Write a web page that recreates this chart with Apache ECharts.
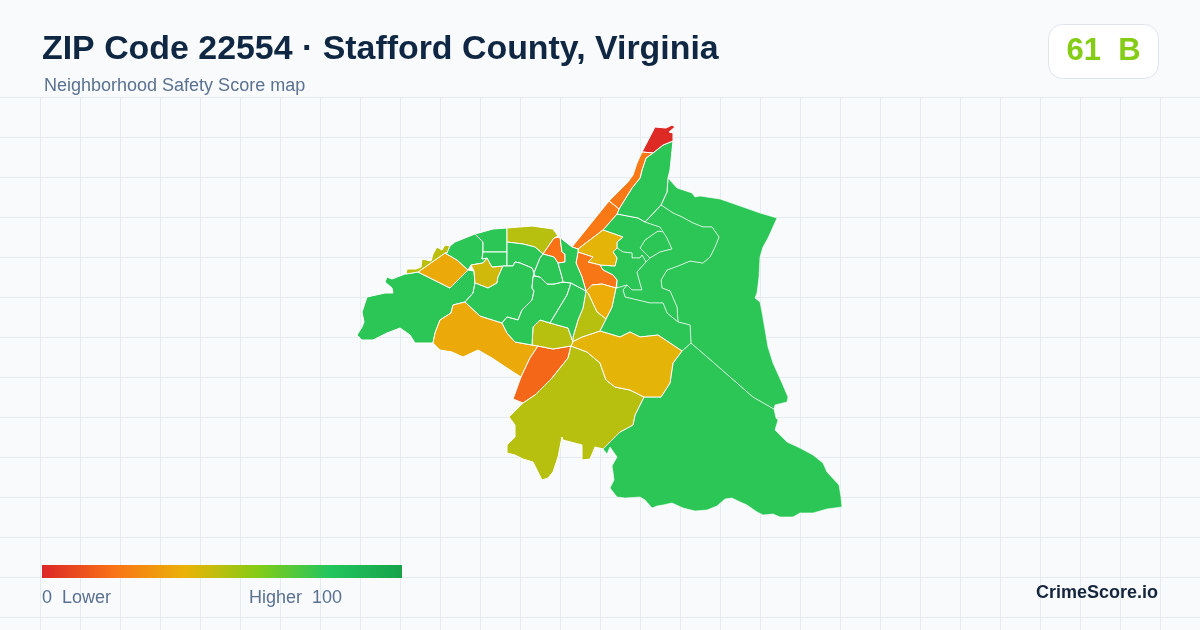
<!DOCTYPE html>
<html>
<head>
<meta charset="utf-8">
<title>ZIP Code 22554</title>
<style>
html, body { margin: 0; padding: 0; background: #f8fafc; }
#main { width: 1200px; height: 630px; }
</style>
<script src="https://cdn.jsdelivr.net/npm/echarts@6/dist/echarts.min.js"></script>
</head>
<body>
<div id="main"></div>
<script>
var titleText = 'ZIP Code 22554 · Stafford County, Virginia';
var subtitleText = 'Neighborhood Safety Score map';
var badgeText = '61  B';
var brandText = 'CrimeScore.io';
var legendLow = '0  Lower';
var legendHigh = 'Higher  100';

// colour ramp of the score, 0 to 100
var rampColors = ['#dc2626', '#f97316', '#eab308', '#84cc16', '#22c55e', '#16a34a'];

// neighborhoods and their scores
var regionNames = ['West', 'Northwest Amber', 'Southwest Amber', 'Creek', 'South Olive', 'East Amber', 'South', 'Northeast',
    'North', 'Tip', 'Strip Upper', 'Strip Lower', 'North Amber', 'Mid Orange', 'Mid Amber', 'Mid Olive', 'Central Olive',
    'West Bits', 'Ridge', 'Star', 'Top Left', 'Top Mid', 'Top Olive', 'Small Orange', 'Center A', 'Center B', 'Center C',
    'Center D', 'Center E', 'Center F', 'Inner Loop', 'Inner North', 'Inner Mid', 'Inner East', 'Inner South'];
var regionScores = [78, 37, 37, 17, 50, 41, 78, 78,
    78, 1, 22, 22, 41, 21, 38, 50, 50,
    49, 78, 45, 78, 78, 50, 20, 78, 78, 78,
    78, 78, 78, 78, 78, 78, 78, 78];
var thinRegions = ['South', 'Northeast', 'Inner Loop', 'Inner North', 'Inner Mid', 'Inner East', 'Inner South'];
var regionRings = [
    [[357,335],[362,327],[364,322],[362,312],[367,297],[385,293],[393,293],[392,288],[385,282],[387,277],[392,279],[405,274],[418,272],[430,278],[440,283],[450,288],[458,280],[468,270],[474,271],[475,283],[473,293],[465,302],[453,305],[451,313],[440,320],[435,333],[433,343],[415,343],[410,335],[400,328],[387,333],[373,340],[362,340]],
    [[418,272],[445,253],[457,260],[468,270],[458,280],[450,288],[440,283],[430,278]],
    [[465,302],[480,316],[502,323],[507,333],[515,342],[532,345],[538,346],[530,358],[521,377],[507,368],[492,358],[478,350],[463,357],[452,352],[440,350],[433,343],[435,333],[440,320],[451,313],[453,305]],
    [[538,346],[553,349],[571,346],[568,358],[552,378],[535,395],[523,403],[513,399],[521,377],[530,358]],
    [[571,346],[587,352],[600,363],[606,380],[615,387],[630,390],[644,397],[635,415],[633,425],[620,432],[603,449],[595,447],[590,459],[582,460],[582,445],[563,440],[562,437],[558,457],[553,472],[548,478],[542,480],[538,472],[533,462],[523,459],[515,455],[507,453],[507,445],[515,437],[515,425],[509,417],[523,403],[535,395],[552,378],[568,358]],
    [[571,346],[572,342],[582,337],[600,331],[620,337],[630,332],[640,337],[658,335],[670,343],[682,351],[673,363],[670,383],[661,397],[644,397],[630,390],[615,387],[606,380],[600,363],[587,352]],
    [[682,351],[691,343],[713,362],[737,383],[753,397],[774,409],[776,418],[778,420],[775,430],[787,442],[800,448],[813,455],[823,463],[827,472],[839,485],[841,497],[842,507],[827,509],[813,513],[800,513],[793,517],[780,517],[773,514],[763,515],[757,512],[747,505],[738,501],[732,498],[725,499],[717,506],[707,510],[695,511],[683,508],[672,503],[663,505],[657,506],[652,508],[645,500],[640,497],[625,498],[617,497],[610,488],[614,480],[613,472],[612,466],[617,457],[610,447],[607,454],[603,449],[620,432],[633,425],[635,415],[644,397],[661,397],[670,383],[673,363]],
    [[668,178],[677,188],[692,193],[695,197],[700,196],[720,199],[743,207],[760,213],[777,218],[768,238],[763,247],[760,257],[759,277],[757,293],[755,298],[760,302],[762,312],[768,347],[773,363],[782,383],[788,397],[787,402],[775,405],[774,409],[753,397],[737,383],[713,362],[691,343],[690,325],[678,322],[677,307],[670,291],[662,288],[661,280],[667,270],[678,266],[690,261],[703,263],[710,257],[715,247],[719,237],[712,227],[703,227],[693,223],[682,217],[673,213],[661,205],[667,192]],
    [[673,141],[670,170],[668,178],[667,192],[661,205],[645,222],[638,218],[617,214],[619,209],[632,188],[640,178],[642,170],[646,158],[653,153],[663,145]],
    [[642,152],[655,127],[666,128],[672,125],[675,127],[669,132],[673,133],[673,141],[663,145],[653,153]],
    [[642,152],[653,153],[646,158],[642,170],[640,178],[632,188],[619,209],[609,201],[628,182],[633,175],[637,163]],
    [[609,201],[619,209],[617,214],[603,230],[578,249],[572,247]],
    [[603,230],[623,237],[617,242],[617,248],[613,252],[617,258],[615,266],[600,265],[588,262],[593,257],[578,252],[578,249]],
    [[578,252],[593,257],[588,262],[600,265],[603,270],[613,275],[617,280],[616,288],[602,284],[592,285],[586,291],[582,277],[576,263]],
    [[586,291],[592,285],[602,284],[616,288],[612,307],[606,319],[597,312],[588,293]],
    [[586,291],[588,293],[597,312],[606,319],[600,331],[582,337],[572,342],[573,337],[578,320],[583,308]],
    [[532,345],[533,327],[540,320],[550,323],[568,328],[573,342],[571,346],[553,349],[538,346]],
    [[406,274],[407,269],[416,269],[421,267],[422,259],[431,261],[433,254],[437,247],[442,250],[445,245],[450,246],[447,253],[445,253],[418,272]],
    [[450,246],[455,242],[475,234],[483,242],[483,252],[482,259],[487,258],[483,263],[471,265],[468,270],[457,260],[445,253],[447,253]],
    [[471,265],[483,263],[487,258],[492,267],[503,266],[498,277],[497,283],[488,288],[475,283],[474,271]],
    [[475,234],[493,229],[507,228],[507,242],[507,252],[483,252],[483,242]],
    [[483,252],[507,252],[507,260],[507,266],[503,266],[492,267],[487,258],[482,259]],
    [[507,228],[532,226],[553,229],[558,236],[554,238],[543,254],[535,247],[523,244],[507,242]],
    [[543,254],[554,238],[560,237],[562,252],[565,254],[565,262],[558,263],[554,257]],
    [[507,242],[523,244],[535,247],[543,254],[540,258],[534,273],[532,268],[520,263],[515,262],[513,266],[507,266],[507,260],[507,252]],
    [[503,266],[507,266],[513,266],[515,262],[520,263],[532,268],[534,273],[533,277],[532,288],[534,291],[532,300],[522,310],[518,320],[507,317],[502,323],[480,316],[465,302],[473,293],[475,283],[488,288],[497,283],[498,277]],
    [[533,277],[535,276],[540,277],[547,284],[554,284],[563,282],[571,283],[567,295],[550,323],[540,320],[533,327],[532,345],[515,342],[507,333],[502,323],[507,317],[518,320],[522,310],[532,300],[534,291],[532,288]],
    [[571,283],[586,291],[583,308],[578,320],[573,337],[573,342],[568,328],[550,323],[567,295]],
    [[543,254],[554,257],[558,263],[562,277],[563,282],[554,284],[547,284],[540,277],[535,276],[534,273],[540,258]],
    [[558,236],[572,247],[578,249],[578,252],[576,263],[582,277],[586,291],[571,283],[563,282],[562,277],[558,263],[565,262],[565,254],[562,252],[560,237]],
    [[645,240],[652,235],[658,231],[664,232],[667,238],[672,249],[660,252],[650,258],[644,252],[640,248]],
    [[603,230],[617,214],[638,218],[645,222],[660,227],[664,232],[658,231],[652,235],[645,240],[640,248],[644,252],[650,258],[646,262],[642,255],[640,258],[632,258],[632,253],[623,252],[617,248],[617,242],[623,237]],
    [[617,248],[623,252],[632,253],[632,258],[640,258],[642,255],[646,262],[637,272],[640,283],[642,290],[632,290],[627,285],[617,288],[616,288],[617,280],[613,275],[603,270],[600,265],[615,266],[617,258],[613,252]],
    [[672,249],[660,252],[650,258],[646,262],[637,272],[640,283],[642,290],[632,290],[627,285],[623,290],[625,297],[650,303],[663,303],[667,313],[678,322],[677,307],[670,291],[662,288],[661,280],[667,270],[678,266],[690,261],[703,263],[710,257],[715,247],[719,237],[712,227],[703,227],[693,223],[682,217],[673,213],[661,205],[645,222],[660,227],[667,238]],
    [[617,288],[627,285],[623,290],[625,297],[650,303],[663,303],[667,313],[678,322],[690,325],[691,343],[682,351],[670,343],[658,335],[640,337],[630,332],[620,337],[600,331],[606,319],[612,307],[616,288]]
];

function isThin(name) {
    return thinRegions.indexOf(name) >= 0;
}

// thin outlines go first so the heavier ones stay on top
var features = regionNames.map(function (name, i) {
    return {
        type: 'Feature',
        properties: { name: name },
        geometry: {
            type: 'Polygon',
            coordinates: [regionRings[i].map(function (p) { return [p[0], -p[1]]; })]
        }
    };
}).sort(function (a, b) {
    return (isThin(b.properties.name) ? 1 : 0) - (isThin(a.properties.name) ? 1 : 0);
});
echarts.registerMap('zip22554', { type: 'FeatureCollection', features: features });

var dom = document.getElementById('main');
var myChart = echarts.init(dom);

var mapData = regionNames.map(function (name, i) {
    return {
        name: name,
        value: regionScores[i],
        itemStyle: { borderWidth: isThin(name) ? 0.6 : 1 }
    };
});

var rampStops = rampColors.map(function (color, i) {
    return { offset: i / (rampColors.length - 1), color: color };
});

myChart.setOption({
    animation: false,
    backgroundColor: '#f8fafc',
    title: [{
        text: titleText,
        left: 42,
        top: 33,
        padding: 0,
        textStyle: { fontFamily: 'Liberation Sans', fontSize: 33.9, fontWeight: 'bold', color: '#0f2742' }
    }, {
        text: subtitleText,
        left: 44,
        top: 77,
        padding: 0,
        textStyle: { fontFamily: 'Liberation Sans', fontSize: 18, fontWeight: 'normal', color: '#5a7190' }
    }],
    grid: { left: 0, top: 97, width: 1200, height: 533 },
    xAxis: {
        type: 'value', min: 0, max: 1200, interval: 40,
        axisLine: { show: false }, axisTick: { show: false }, axisLabel: { show: false },
        splitLine: { show: true, showMinLine: false, lineStyle: { color: '#e4ecf1', width: 1 } }
    },
    yAxis: {
        type: 'value', inverse: true, min: 0, max: 533, interval: 40,
        axisLine: { show: false }, axisTick: { show: false }, axisLabel: { show: false },
        splitLine: { show: true, lineStyle: { color: '#e4ecf1', width: 1 } }
    },
    visualMap: {
        show: false,
        type: 'continuous',
        seriesIndex: 0,
        min: 0,
        max: 100,
        inRange: { color: rampColors }
    },
    series: [{
        name: 'Safety Score',
        type: 'map',
        map: 'zip22554',
        aspectScale: 1,
        left: 357,
        top: 125,
        width: 485,
        height: 392,
        roam: false,
        silent: true,
        label: { show: false },
        emphasis: { disabled: true },
        select: { disabled: true },
        itemStyle: { borderColor: '#ffffff', borderWidth: 1 },
        data: mapData
    }],
    graphic: [
        {
            type: 'rect',
            z: 10,
            shape: { x: 42, y: 565, width: 360, height: 13 },
            style: { fill: new echarts.graphic.LinearGradient(0, 0, 1, 0, rampStops) }
        },
        {
            type: 'rect',
            z: 10,
            shape: { x: 1048.5, y: 24.5, width: 110, height: 54, r: 14 },
            style: { fill: '#ffffff', stroke: '#dfe5ee', lineWidth: 1 }
        },
        {
            type: 'text',
            z: 11,
            x: 1103.5, y: 51,
            style: { text: badgeText, fontFamily: 'Liberation Sans', fontSize: 31, fontWeight: 'bold', fill: '#84cc16', align: 'center', verticalAlign: 'middle' }
        },
        {
            type: 'text',
            z: 11,
            x: 42, y: 598,
            style: { text: legendLow, fontFamily: 'Liberation Sans', fontSize: 18, fill: '#5a7190', align: 'left', verticalAlign: 'middle' }
        },
        {
            type: 'text',
            z: 11,
            x: 249, y: 598,
            style: { text: legendHigh, fontFamily: 'Liberation Sans', fontSize: 18, fill: '#5a7190', align: 'left', verticalAlign: 'middle' }
        },
        {
            type: 'text',
            z: 11,
            x: 1158, y: 593,
            style: { text: brandText, fontFamily: 'Liberation Sans', fontSize: 18, fontWeight: 'bold', fill: '#14253d', align: 'right', verticalAlign: 'middle' }
        }
    ]
});

window.onresize = function () {
    myChart.resize();
};
</script>
</body>
</html>
